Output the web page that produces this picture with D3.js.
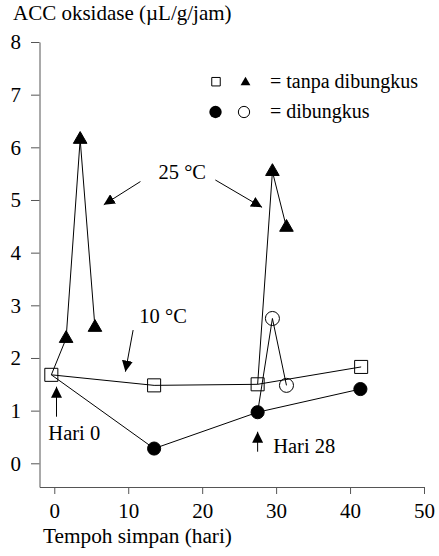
<!DOCTYPE html>
<html>
<head>
<meta charset="utf-8">
<script src="https://cdn.jsdelivr.net/npm/d3@7"></script>
<style>
  body { margin: 0; background: #fff; }
  svg text { font-family: "Liberation Serif", "Times New Roman", serif; fill: #000; }
</style>
</head>
<body>
<script>
// starting point shared by every series (day, value)
const start = [-0.4, 1.68];

// 10 °C, tanpa dibungkus (open squares)
const tanpa10Hari = [13.5, 27.5, 41.5];
const tanpa10Nilai = [1.48, 1.50, 1.83];

// 10 °C, dibungkus (filled circles)
const bungkus10Hari = [13.5, 27.5, 41.4];
const bungkus10Nilai = [0.28, 0.97, 1.41];

// 25 °C, tanpa dibungkus (filled triangles), from day 0 and from day 28
const tanpa25aHari = [1.6, 3.5, 5.5];
const tanpa25aNilai = [2.37, 6.15, 2.58];
const tanpa25bHari = [29.5, 31.4];
const tanpa25bNilai = [5.54, 4.48];

// 25 °C, dibungkus (open circles), from day 28
const bungkus25Hari = [29.5, 31.4];
const bungkus25Nilai = [2.75, 1.48];

const xTicks = [0, 10, 20, 30, 40, 50];
const yTicks = [0, 1, 2, 3, 4, 5, 6, 7, 8];

const W = 439, H = 556;
const svg = d3.select("body").append("svg").attr("width", W).attr("height", H);

const x = d3.scaleLinear().domain([-2, 50]).range([39.5, 424]);
const y = d3.scaleLinear().domain([-0.45, 8]).range([487, 42]);

const zip = (a, b) => a.map((d, i) => [d, b[i]]);
const line = d3.line().x(d => x(d[0])).y(d => y(d[1]));

// axes
const xAxis = svg.append("g").attr("transform", `translate(0,${y(-0.45)})`)
  .call(d3.axisBottom(x).tickValues(xTicks).tickSize(7).tickPadding(9).tickSizeOuter(0));
const yAxis = svg.append("g").attr("transform", `translate(${x(-2)},0)`)
  .call(d3.axisLeft(y).tickValues(yTicks).tickSize(8.5).tickPadding(10).tickSizeOuter(0));
[xAxis, yAxis].forEach(g => {
  g.select(".domain").attr("stroke", "#555");
  g.selectAll(".tick line").attr("stroke", "#555");
  g.selectAll(".tick text").attr("font-size", 21);
});

svg.append("text").attr("x", 13).attr("y", 20).attr("font-size", 21)
  .text("ACC oksidase (\u00b5L/g/jam)");
svg.append("text").attr("x", 43).attr("y", 543).attr("font-size", 21.3)
  .text("Tempoh simpan (hari)");

// series lines
const sq28 = [tanpa10Hari[1], tanpa10Nilai[1]];
const ci28 = [bungkus10Hari[1], bungkus10Nilai[1]];
const paths = [
  [start, ...zip(tanpa10Hari, tanpa10Nilai)],
  [start, ...zip(bungkus10Hari, bungkus10Nilai)],
  [start, ...zip(tanpa25aHari, tanpa25aNilai)],
  [sq28, ...zip(tanpa25bHari, tanpa25bNilai)],
  [ci28, ...zip(bungkus25Hari, bungkus25Nilai)]
];
svg.append("g").selectAll("path").data(paths).join("path")
  .attr("d", line).attr("fill", "none").attr("stroke", "#000").attr("stroke-width", 1);

// markers
const sym = (type, size) => d3.symbol().type(type).size(size)();
function markers(pts, type, size, fill) {
  svg.append("g").selectAll("path").data(pts).join("path")
    .attr("transform", d => `translate(${x(d[0])},${y(d[1])})`)
    .attr("d", sym(type, size))
    .attr("fill", fill).attr("stroke", "#000").attr("stroke-width", 1);
}
markers([start, ...zip(tanpa10Hari, tanpa10Nilai)], d3.symbolSquare, 170, "none");
markers(zip(bungkus10Hari, bungkus10Nilai), d3.symbolCircle, 135, "#000");
markers([...zip(tanpa25aHari, tanpa25aNilai), ...zip(tanpa25bHari, tanpa25bNilai)], d3.symbolTriangle, 80, "#000");
markers(zip(bungkus25Hari, bungkus25Nilai), d3.symbolCircle, 155, "none");

// annotations: arrows [tail, tip] in data units
svg.append("defs").append("marker").attr("id", "head")
  .attr("viewBox", "0 0 10 10").attr("refX", 10).attr("refY", 5)
  .attr("markerWidth", 11).attr("markerHeight", 11).attr("markerUnits", "userSpaceOnUse")
  .attr("orient", "auto")
  .append("path").attr("d", "M0,0L10,5L0,10Z").attr("fill", "#000");

const arrows = [
  [[11.65, 5.35], [6.69, 4.91]],
  [[21.78, 5.38], [28.1, 4.86]],
  [[10.66, 2.53], [9.62, 1.74]],
  [[0.3, 0.885], [0.3, 1.455]],
  [[27.5, 0.22], [27.5, 0.60]]
];
svg.append("g").selectAll("line").data(arrows).join("line")
  .attr("x1", d => x(d[0][0])).attr("y1", d => y(d[0][1]))
  .attr("x2", d => x(d[1][0])).attr("y2", d => y(d[1][1]))
  .attr("stroke", "#000").attr("stroke-width", 1).attr("marker-end", "url(#head)");

const labels = [
  [14.1, 5.4, "25 \u00b0C"],
  [11.5, 2.66, "10 \u00b0C"],
  [-0.8, 0.44, "Hari 0"],
  [29.6, 0.196, "Hari 28"]
];
svg.append("g").selectAll("text").data(labels).join("text")
  .attr("x", d => x(d[0])).attr("y", d => y(d[1])).attr("font-size", 20.5)
  .text(d => d[2]);

// legend
const lg = svg.append("g");
lg.append("path").attr("transform", "translate(216,81.7)").attr("d", sym(d3.symbolSquare, 72))
  .attr("fill", "none").attr("stroke", "#000");
lg.append("path").attr("transform", "translate(245.5,82.5)").attr("d", sym(d3.symbolTriangle, 42))
  .attr("fill", "#000");
lg.append("text").attr("x", 270).attr("y", 87.5).attr("font-size", 20).text("= tanpa dibungkus");
lg.append("path").attr("transform", "translate(215.5,112)").attr("d", sym(d3.symbolCircle, 120))
  .attr("fill", "#000");
lg.append("path").attr("transform", "translate(244,112)").attr("d", sym(d3.symbolCircle, 100))
  .attr("fill", "none").attr("stroke", "#000");
lg.append("text").attr("x", 270).attr("y", 117.5).attr("font-size", 20).text("= dibungkus");
</script>
</body>
</html>
